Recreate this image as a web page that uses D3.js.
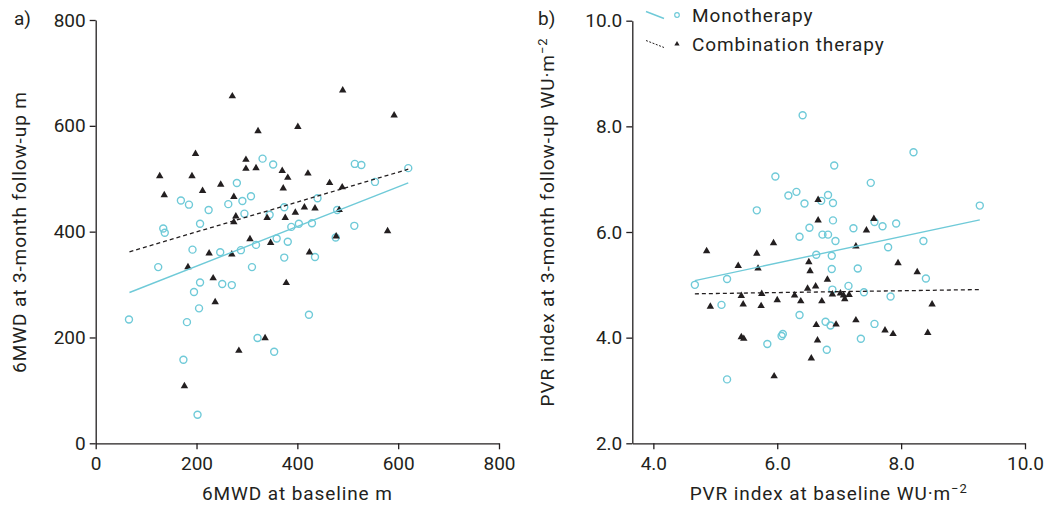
<!DOCTYPE html>
<html>
  <head>
    <meta charset="utf-8" />
    <title>6MWD and PVR index</title>
    <script src="https://d3js.org/d3.v7.min.js"></script>
    <style>
        body{
            margin: 0;
            background: #fff;
        }
        text{
            font-family: Roboto, "DejaVu Sans Condensed", sans-serif;
            fill: #231f20;
        }
        .title{
            letter-spacing: 0.9px;
        }
    </style>
  </head>
  <body>
    <svg id="vis" width="1059" height="506"></svg>

    <script>
        // panel a: 6MWD (m), baseline vs 3-month follow-up
        var aMono = [[331,538],[352,527],[280,492],[169,459],[185,451],[224,441],[263,452],[291,458],[308,467],[295,434],
            [134,406],[137,398],[207,415],[374,446],[345,432],[388,409],[359,387],[381,381],[318,375],[288,365],
            [247,361],[192,366],[374,351],[514,528],[527,526],[620,520],[554,494],[440,463],[479,441],[403,415],
            [429,416],[513,411],[476,389],[435,352],[124,333],[310,333],[207,304],[251,301],[270,299],[195,286],
            [205,255],[66,234],[181,229],[321,199],[354,173],[174,158],[202,54],[423,243]];
        var aCombo = [[271,656],[322,590],[198,547],[298,536],[298,519],[318,520],[370,515],[381,502],[127,505],[191,505],
            [136,469],[212,477],[248,489],[372,482],[274,466],[278,429],[274,418],[340,426],[376,426],[396,436],
            [306,386],[347,379],[225,359],[270,357],[490,667],[592,620],[401,598],[421,510],[464,492],[489,484],
            [414,446],[435,444],[483,441],[477,391],[579,401],[424,361],[183,333],[233,312],[378,303],[237,267],
            [336,199],[284,175],[176,108]];
        var aFitMono = [[67,285],[620,492]];
        var aFitCombo = [[67,362],[620,518]];
        var aTicks = [0,200,400,600,800];

        // panel b: PVR index (WU·m-2), baseline vs 3-month follow-up
        var bMono = [[6.41,8.21],[6.92,7.26],[5.97,7.05],[6.18,6.69],[6.31,6.76],[6.44,6.54],[6.82,6.70],[6.71,6.59],[6.90,6.55],[5.67,6.41],
            [6.90,6.22],[6.52,6.08],[6.36,5.91],[6.73,5.95],[6.82,5.95],[6.94,5.83],[6.63,5.57],[6.88,5.55],[6.88,5.30],[8.20,7.51],
            [7.51,6.93],[9.27,6.50],[7.23,6.07],[7.57,6.19],[7.70,6.11],[7.92,6.16],[7.79,5.71],[8.36,5.83],[7.30,5.31],[4.67,5.00],
            [5.19,5.11],[6.89,4.91],[5.10,4.62],[6.36,4.43],[6.78,4.30],[6.86,4.23],[6.09,4.07],[6.07,4.03],[5.84,3.88],[6.80,3.77],
            [5.19,3.21],[8.40,5.12],[7.15,4.98],[7.40,4.86],[7.83,4.78],[7.57,4.26],[7.35,3.98]];
        var bCombo = [[6.66,6.61],[6.66,6.22],[5.94,5.79],[4.86,5.64],[5.67,5.59],[6.51,5.43],[5.37,5.36],[5.69,5.31],[7.56,6.25],[7.44,6.03],
            [7.27,5.73],[7.95,5.41],[6.53,5.26],[6.81,5.10],[6.49,4.93],[6.62,4.97],[6.89,4.82],[7.02,4.84],[7.07,4.80],[5.42,4.79],
            [5.75,4.83],[6.28,4.80],[4.92,4.59],[5.45,4.63],[5.74,4.60],[6.00,4.71],[6.38,4.69],[6.72,4.69],[6.63,4.24],[6.95,4.25],
            [5.42,4.01],[5.46,3.98],[6.65,3.95],[6.55,3.61],[5.95,3.27],[8.26,5.24],[7.16,4.81],[7.09,4.73],[8.50,4.63],[7.27,4.33],
            [7.74,4.14],[7.87,4.07],[8.43,4.09]];
        var bFitMono = [[4.67,5.08],[9.27,6.23]];
        var bFitCombo = [[4.67,4.83],[9.27,4.91]];
        var bXTicks = [4,6,8,10];
        var bYTicks = [2,4,6,8,10];

        var legendLabels = ["Monotherapy", "Combination therapy"];

        var cyan = "#6fcad8";
        var dark = "#231f20";

        var svg = d3.select("#vis");

        function panel(opt) {
            var g = svg.append("g");
            var x = d3.scaleLinear().domain(opt.xDomain).range(opt.xRange);
            var y = d3.scaleLinear().domain(opt.yDomain).range(opt.yRange);

            g.append("g")
                .attr("transform", "translate(0," + opt.yRange[0] + ")")
                .call(d3.axisBottom(x).tickValues(opt.xTicks).tickFormat(d3.format(opt.fmt)).tickSize(6).tickSizeOuter(0).tickPadding(7));
            g.append("g")
                .attr("transform", "translate(" + opt.xRange[0] + ",0)")
                .call(d3.axisLeft(y).tickValues(opt.yTicks).tickFormat(d3.format(opt.fmt)).tickSize(6).tickSizeOuter(0).tickPadding(4));

            g.selectAll(".domain, .tick line").attr("stroke", dark).attr("stroke-width", 1.3);
            g.selectAll(".tick text").attr("font-size", 19).attr("fill", dark)
                .style("font-family", "Roboto, sans-serif");

            // markers
            g.append("g").selectAll("circle").data(opt.mono).enter().append("circle")
                .attr("cx", function(d) { return x(d[0]); })
                .attr("cy", function(d) { return y(d[1]); })
                .attr("r", 3.5)
                .attr("fill", "none")
                .attr("stroke", cyan)
                .attr("stroke-width", 1.4);

            g.append("g").selectAll("path").data(opt.combo).enter().append("path")
                .attr("d", d3.symbol().type(d3.symbolTriangle).size(24))
                .attr("fill", dark)
                .attr("transform", function(d) { return "translate(" + x(d[0]) + "," + y(d[1]) + ")"; });

            // fitted lines
            var line = d3.line().x(function(d) { return x(d[0]); }).y(function(d) { return y(d[1]); });
            g.append("path").datum(opt.fitMono).attr("d", line)
                .attr("fill", "none").attr("stroke", cyan).attr("stroke-width", 1.4);
            g.append("path").datum(opt.fitCombo).attr("d", line)
                .attr("fill", "none").attr("stroke", dark).attr("stroke-width", 1.3).attr("stroke-dasharray", "4,3");

            // titles
            var xt = g.append("text").attr("class", "title")
                .attr("x", (opt.xRange[0] + opt.xRange[1]) / 2)
                .attr("y", 500)
                .attr("text-anchor", "middle")
                .attr("font-size", 19)
                .text(opt.xTitle);
            if (opt.unit) addUnit(xt);

            var yt = g.append("text").attr("class", "title")
                .attr("transform", "translate(" + opt.yTitleX + "," + opt.yTitleY + ") rotate(-90)")
                .attr("text-anchor", "middle")
                .attr("font-size", 19)
                .text(opt.yTitle);
            if (opt.unit) addUnit(yt);

            svg.append("text")
                .attr("x", opt.labelX)
                .attr("y", 25)
                .attr("font-size", 19)
                .text(opt.label);

            return {x: x, y: y};
        }

        function addUnit(t) {
            t.append("tspan").text("WU·m");
            t.append("tspan").attr("font-size", 13).attr("dy", -7).text("−2");
        }

        panel({
            xDomain: [0, 800], xRange: [95.7, 499],
            yDomain: [0, 800], yRange: [443.3, 20],
            xTicks: aTicks, yTicks: aTicks, fmt: "d",
            mono: aMono, combo: aCombo, fitMono: aFitMono, fitCombo: aFitCombo,
            xTitle: "6MWD at baseline m", yTitle: "6MWD at 3-month follow-up m",
            yTitleX: 26, yTitleY: 232, label: "a)", labelX: 14
        });

        panel({
            xDomain: [3.66, 10], xRange: [632.3, 1025],
            yDomain: [2, 10], yRange: [443.3, 20.7],
            xTicks: bXTicks, yTicks: bYTicks, fmt: ".1f",
            mono: bMono, combo: bCombo, fitMono: bFitMono, fitCombo: bFitCombo,
            xTitle: "PVR index at baseline ", yTitle: "PVR index at 3-month follow-up ", unit: true,
            yTitleX: 554, yTitleY: 222, label: "b)", labelX: 538
        });

        // legend
        var legend = svg.append("g");
        var rows = legend.selectAll("g").data(legendLabels).enter().append("g")
            .attr("transform", function(d, i) { return "translate(0," + (15 + i * 29) + ")"; });
        rows.append("line")
            .attr("x1", 646).attr("y1", -3.5).attr("x2", 664).attr("y2", 3.5)
            .attr("stroke", function(d, i) { return i === 0 ? cyan : dark; })
            .attr("stroke-width", function(d, i) { return i === 0 ? 1.4 : 1; })
            .attr("stroke-dasharray", function(d, i) { return i === 0 ? null : "2,1.5"; });
        rows.filter(function(d, i) { return i === 0; }).append("circle")
            .attr("cx", 677).attr("cy", 0).attr("r", 2.3)
            .attr("fill", "none").attr("stroke", cyan).attr("stroke-width", 1.2);
        rows.filter(function(d, i) { return i === 1; }).append("path")
            .attr("d", d3.symbol().type(d3.symbolTriangle).size(12))
            .attr("transform", "translate(677,0)")
            .attr("fill", dark);
        rows.append("text").attr("class", "title")
            .attr("x", 692).attr("y", 7)
            .attr("font-size", 19)
            .text(function(d) { return d; });
    </script>
  </body>
</html>
